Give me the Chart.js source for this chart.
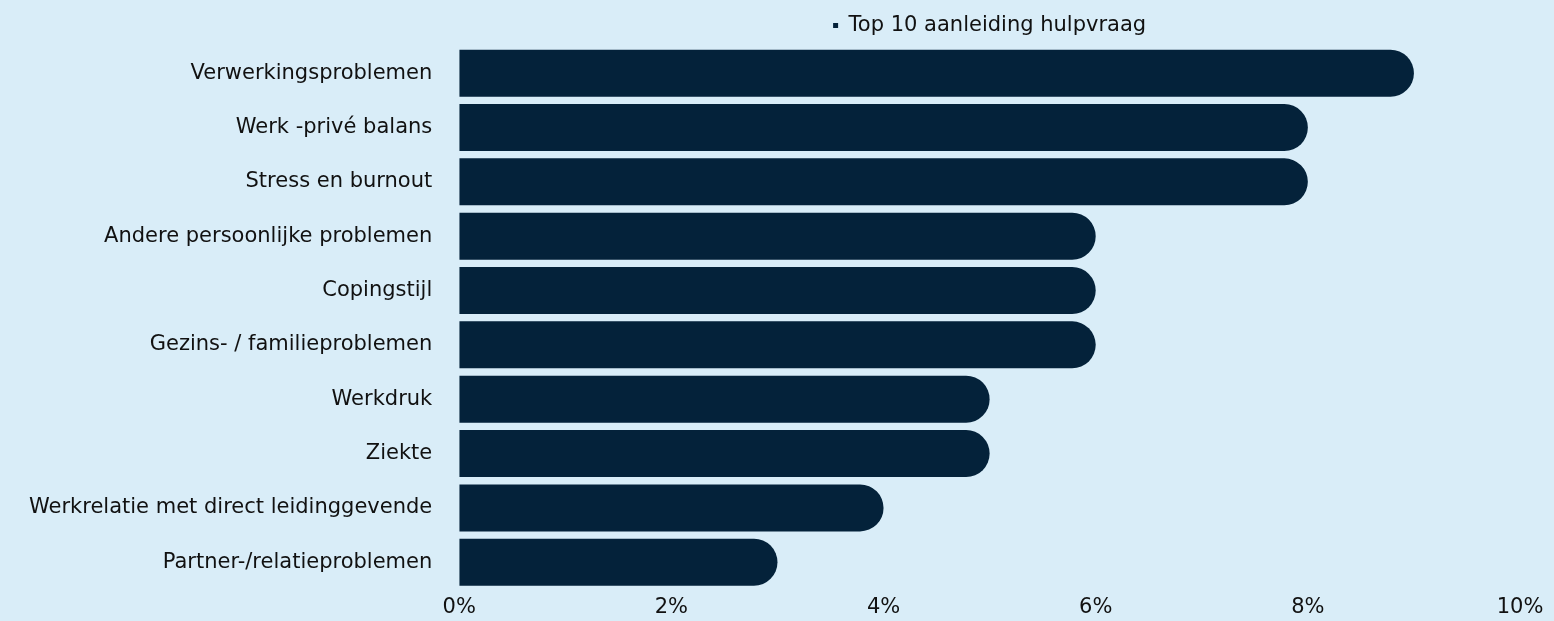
<!DOCTYPE html>
<html>
<head>
<meta charset="utf-8">
<script src="https://cdn.jsdelivr.net/npm/chart.js@4"></script>
<style>
  html, body { margin: 0; padding: 0; background: #d9edf8; }
  #wrap { width: 1554px; height: 621px; }
</style>
</head>
<body>
<div id="wrap"><canvas id="chart"></canvas></div>
<script>
// categories and values (percent)
const categories = [
  'Verwerkingsproblemen',
  'Werk -privé balans',
  'Stress en burnout',
  'Andere persoonlijke problemen',
  'Copingstijl',
  'Gezins- / familieproblemen',
  'Werkdruk',
  'Ziekte',
  'Werkrelatie met direct leidinggevende',
  'Partner-/relatieproblemen'
];
const values = [9, 8, 8, 6, 6, 6, 5, 5, 4, 3];
const seriesName = 'Top 10 aanleiding hulpvraag';
const xTicks = [0, 2, 4, 6, 8, 10];

const font = { family: 'DejaVu Sans', size: 21 };
const ctx = document.getElementById('chart').getContext('2d');

new Chart(ctx, {
  type: 'bar',
  data: {
    labels: categories,
    datasets: [
      {
        label: seriesName,
        data: values,
        backgroundColor: '#04223a',
        borderWidth: 0,
        borderRadius: 40,
        borderSkipped: 'start',
        categoryPercentage: 1,
        barPercentage: 0.865,
      },
    ],
  },
  options: {
    indexAxis: 'y',
    responsive: true,
    maintainAspectRatio: false,
    animation: false,
    layout: {
      padding: { left: 10, right: 34, top: 12, bottom: 0 },
    },
    plugins: {
      legend: {
        display: true,
        position: 'top',
        fullSize: false,
        labels: {
          font: font,
          color: '#111',
          boxWidth: 5,
          boxHeight: 5,
          padding: 3,
        },
      },
      tooltip: { enabled: false },
    },
    scales: {
      x: {
        min: 0,
        max: 10,
        grid: { display: false },
        border: { display: false },
        afterBuildTicks: (axis) => {
          axis.ticks = xTicks.map((v) => ({ value: v }));
        },
        ticks: {
          font: { family: 'DejaVu Sans', size: 21, lineHeight: 1.0 },
          color: '#111',
          padding: 0,
          callback: (v) => v + '%',
        },
      },
      y: {
        grid: { display: false },
        border: { display: false },
        ticks: {
          font: font,
          color: '#111',
          padding: 19,
        },
      },
    },
  },
});
</script>
</body>
</html>
